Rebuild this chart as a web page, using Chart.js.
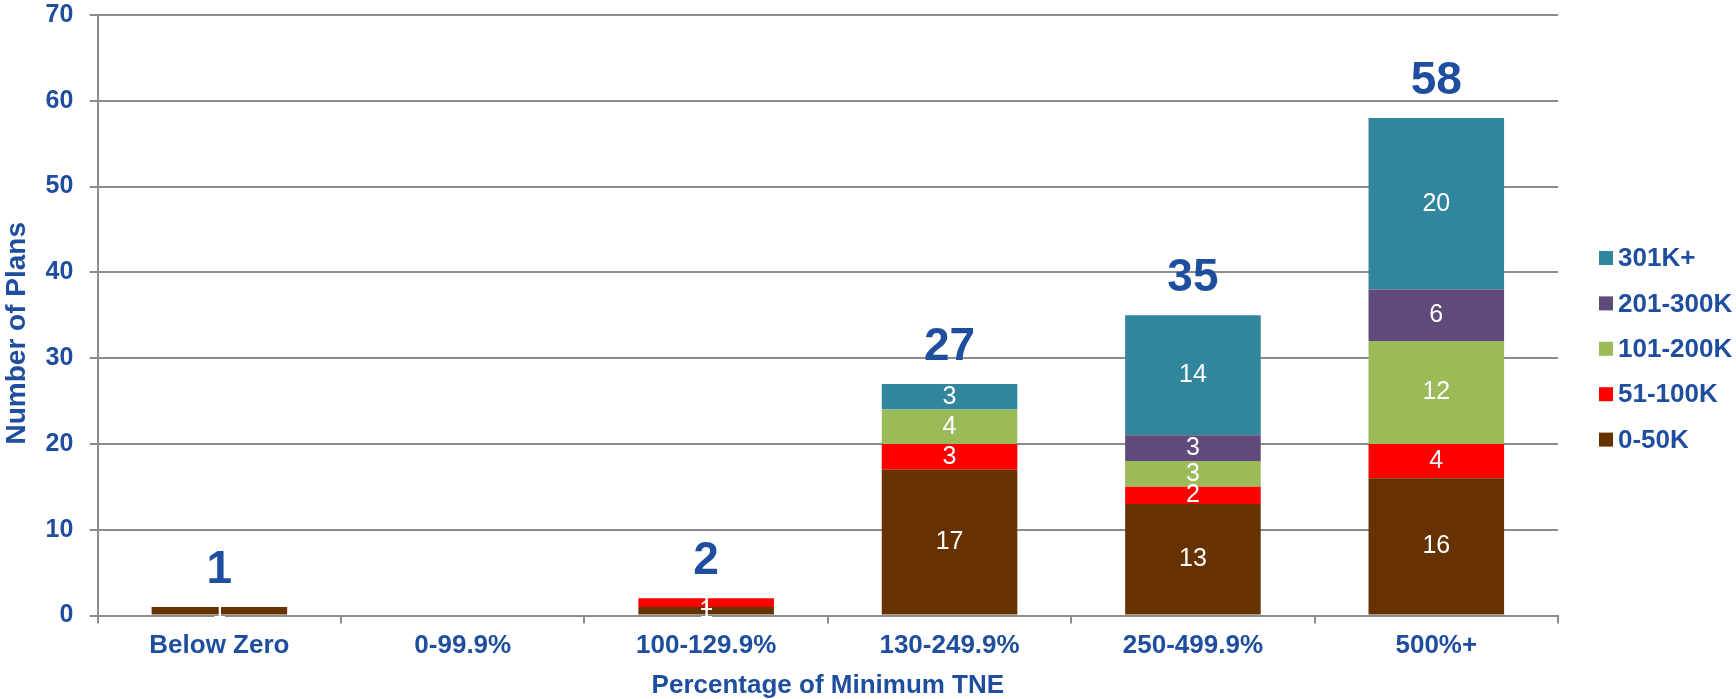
<!DOCTYPE html>
<html>
<head>
<meta charset="utf-8">
<script src="https://cdn.jsdelivr.net/npm/chart.js@4.4.1/dist/chart.umd.min.js"></script>
<style>
  html, body { margin: 0; padding: 0; background: #ffffff; }
  #wrap { width: 1736px; height: 699px; position: relative; }
</style>
</head>
<body>
<div id="wrap"><canvas id="c"></canvas></div>
<script>
// ---- data ----
const categories = ["Below Zero", "0-99.9%", "100-129.9%", "130-249.9%", "250-499.9%", "500%+"];
const seriesNames = ["0-50K", "51-100K", "101-200K", "201-300K", "301K+"];
const s0to50K    = [1, 0, 1, 17, 13, 16];
const s51to100K  = [0, 0, 1, 3, 2, 4];
const s101to200K = [0, 0, 0, 4, 3, 12];
const s201to300K = [0, 0, 0, 0, 3, 6];
const s301Kplus  = [0, 0, 0, 3, 14, 20];
const yTicks = [0, 10, 20, 30, 40, 50, 60, 70];
const xTitle = "Percentage of Minimum TNE";
const yTitle = "Number of Plans";

// ---- styles ----
const seriesColors = ["#663300", "#FF0000", "#9BBB59", "#604A7B", "#31859C"];
const BLUE = "#1F4E9F";
const GRID = "#8C8C8C";
const FONT = "'Liberation Sans', Arial, Helvetica, sans-serif";

const seriesValues = [s0to50K, s51to100K, s101to200K, s201to300K, s301Kplus];

const datasets = seriesNames.map((name, i) => ({
  label: name,
  data: seriesValues[i],
  backgroundColor: seriesColors[i],
  borderWidth: 0,
  barPercentage: 0.557,
  categoryPercentage: 1.0
}));

// segment value labels + totals
const labelPlugin = {
  id: 'labels',
  afterDatasetsDraw(chart) {
    const ctx = chart.ctx;
    ctx.save();
    ctx.fillStyle = '#ffffff';
    ctx.font = "25px " + FONT;
    ctx.textAlign = 'center';
    ctx.textBaseline = 'middle';
    chart.data.datasets.forEach((ds, di) => {
      const meta = chart.getDatasetMeta(di);
      meta.data.forEach((el, i) => {
        const v = ds.data[i];
        if (!v) return;
        ctx.fillText(String(v), el.x, (el.y + el.base) / 2);
      });
    });
    // totals
    const yScale = chart.scales.y;
    ctx.fillStyle = BLUE;
    ctx.font = "bold 46px " + FONT;
    ctx.textBaseline = 'alphabetic';
    const meta0 = chart.getDatasetMeta(0);
    chart.data.labels.forEach((lab, i) => {
      let tot = 0;
      chart.data.datasets.forEach(ds => { tot += ds.data[i] || 0; });
      if (!tot) return;
      const x = meta0.data[i].x;
      const y = yScale.getPixelForValue(tot) - 24;
      ctx.fillText(String(tot), x, y);
    });
    ctx.restore();
  }
};

// legend on the right (reversed order)
const legendPlugin = {
  id: 'sideLegend',
  afterDraw(chart) {
    const ctx = chart.ctx;
    ctx.save();
    ctx.font = "bold 26px " + FONT;
    ctx.textBaseline = 'middle';
    ctx.textAlign = 'left';
    const n = chart.data.datasets.length;
    const x0 = 1599, y0 = 258, step = 45.4, box = 14;
    for (let k = 0; k < n; k++) {
      const ds = chart.data.datasets[n - 1 - k];
      const yc = y0 + k * step;
      ctx.fillStyle = ds.backgroundColor;
      ctx.fillRect(x0, yc - box / 2, box, box);
      ctx.fillStyle = BLUE;
      ctx.fillText(ds.label, x0 + 19, yc + 1);
    }
    ctx.restore();
  }
};

new Chart(document.getElementById('c'), {
  type: 'bar',
  data: { labels: categories, datasets },
  options: {
    responsive: true,
    maintainAspectRatio: false,
    animation: false,
    layout: { padding: { top: 0.5, right: 178, bottom: 0, left: 0 } },
    plugins: {
      legend: { display: false },
      tooltip: { enabled: false },
      title: { display: false }
    },
    scales: {
      x: {
        stacked: true,
        offset: true,
        grid: {
          display: true,
          offset: true,
          drawOnChartArea: false,
          drawTicks: true,
          tickLength: 8,
          color: GRID,
          lineWidth: 2
        },
        border: { display: true, color: GRID, width: 2 },
        ticks: {
          color: BLUE,
          font: { family: FONT, size: 26, weight: 'bold' },
          padding: 6.5,
          maxRotation: 0,
          autoSkip: false
        },
        title: {
          display: true,
          text: xTitle,
          color: BLUE,
          font: { family: FONT, size: 26, weight: 'bold', lineHeight: 1 },
          padding: { top: 0, bottom: 0 }
        },
        afterFit(scale) { scale.height = 83.5; }
      },
      y: {
        stacked: true,
        min: 0,
        max: 70,
        afterBuildTicks(scale) { scale.ticks = yTicks.map(v => ({ value: v })); },
        grid: {
          color: GRID,
          lineWidth: 2,
          drawTicks: true,
          tickLength: 8
        },
        border: { display: true, color: GRID, width: 2 },
        ticks: {
          color: BLUE,
          font: { family: FONT, size: 25, weight: 'bold' },
          padding: 16.4
        },
        title: {
          display: true,
          text: yTitle,
          color: BLUE,
          font: { family: FONT, size: 28, weight: 'bold', lineHeight: 1.2 },
          padding: { top: 0, bottom: 0 }
        },
        afterFit(scale) {
          scale.width = 97.7;
          scale.paddingTop = 15;
          scale.paddingBottom = 15;
          if (!scale._titlePatched) {
            const orig = scale.drawTitle;
            scale.drawTitle = function () {
              const c = this.ctx;
              c.save();
              c.translate(0, 18);
              orig.apply(this, arguments);
              c.restore();
            };
            scale._titlePatched = true;
          }
        }
      }
    }
  },
  plugins: [labelPlugin, legendPlugin]
});
</script>
</body>
</html>
